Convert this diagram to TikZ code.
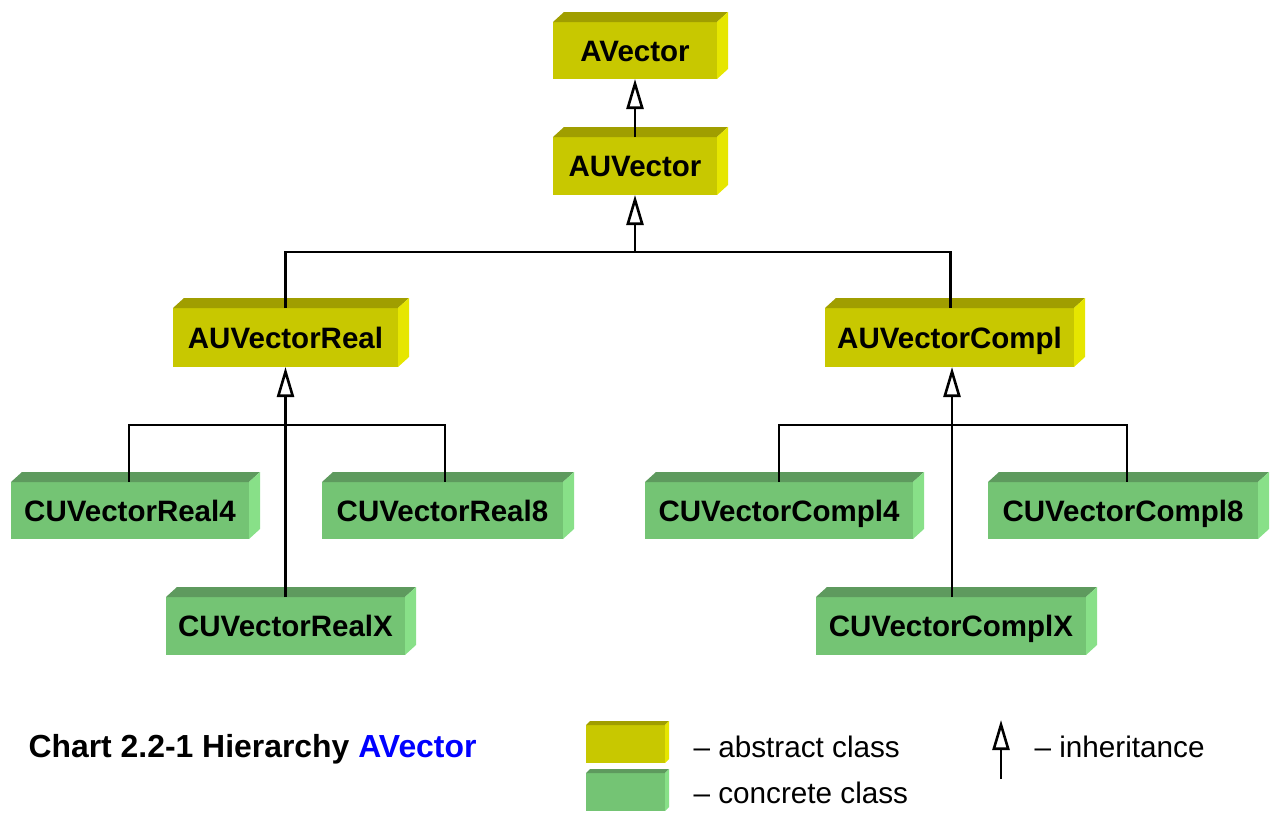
\documentclass[tikz,border=0pt]{standalone}
\usepackage{fontspec}
\setmainfont{Liberation Sans}
\usetikzlibrary{arrows.meta}

\definecolor{absfront}{HTML}{C8C800}
\definecolor{abstop}{HTML}{A09E00}
\definecolor{absside}{HTML}{E6E600}
\definecolor{confront}{HTML}{74C474}
\definecolor{contop}{HTML}{5E9A5E}
\definecolor{conside}{HTML}{88E088}
\definecolor{titleblue}{HTML}{0000FF}

\tikzset{
  classbox/.style={inner sep=0pt, outer sep=0pt, anchor=north west,
    font=\fontsize{29.5}{31}\selectfont\bfseries, text height=21pt, text depth=0pt},
  abstractcls/.style={classbox, fill=absfront},
  concretecls/.style={classbox, fill=confront},
  link/.style={line width=2.5pt, draw=black, line join=miter},
  inherit/.style={link, -{Triangle[open, fill=white, length=30pt, width=17pt, line width'=2.6pt]}},
  legendtext/.style={anchor=base west, font=\fontsize{29.7}{31}\selectfont},
}

% a class box: name, style, x1, y1, x2, y2, label
\newcommand\classnode[7]{%
  \node[#2, minimum width={(#5-#3)*1pt}, minimum height={(#6-#4)*1pt}]
    (#1) at (#3,#4) {#7};}

% top and side faces of a box: name, depth x, depth y, top colour, side colour
\newcommand\boxfaces[5]{%
  \fill[#4] (#1.north west) -- ++(#2,-#3) -- ([shift={(#2,-#3)}]#1.north east)
    -- (#1.north east) -- cycle;
  \fill[#5] (#1.north east) -- ++(#2,-#3) -- ([shift={(#2,-#3)}]#1.south east)
    -- (#1.south east) -- cycle;}

\begin{document}
\begin{tikzpicture}[x=1pt, y=-1pt]
\useasboundingbox (0,0) rectangle (1272,814);

% abstract classes
\classnode{av}{abstractcls}{553}{22}{717}{79}{AVector}
\classnode{auv}{abstractcls}{553}{137}{717}{195}{AUVector}
\classnode{aur}{abstractcls}{173}{308}{398}{367}{AUVectorReal}
\classnode{auc}{abstractcls}{825}{308}{1074}{367}{AUVectorCompl}
\foreach \n in {av,auv,aur,auc} {\boxfaces{\n}{11}{10}{abstop}{absside}}

% concrete classes
\classnode{cur4}{concretecls}{11}{482}{249}{539}{CUVectorReal4}
\classnode{cur8}{concretecls}{322}{482}{563}{539}{CUVectorReal8}
\classnode{curx}{concretecls}{166}{597}{405}{655}{CUVectorRealX}
\classnode{cuc4}{concretecls}{645}{482}{913}{539}{CUVectorCompl4}
\classnode{cuc8}{concretecls}{988}{482}{1258}{539}{CUVectorCompl8}
\classnode{cucx}{concretecls}{816}{597}{1086}{655}{CUVectorComplX}
\foreach \n in {cur4,cur8,curx,cuc4,cuc8,cucx} {\boxfaces{\n}{11}{10}{contop}{conside}}

% junction points
\coordinate (hubA) at (635,252);
\coordinate (hubR) at (286,425);
\coordinate (hubC) at (952,425);

% inheritance connectors
\draw[inherit] (auv.north) -- (av.south);
\draw[inherit] (hubA) -- (auv.south);
\draw[link] (aur.north) |- (hubA) -| ([xshift=1pt]auc.north);
\draw[inherit] (curx.north) -- (aur.south);
\draw[link] ([xshift=-1pt]cur4.north) |- (hubR) -| ([xshift=2.5pt]cur8.north);
\draw[inherit] (cucx.north -| hubC) -- (hubC |- auc.south);
\draw[link] (cuc4.north) |- (hubC) -| ([xshift=4pt]cuc8.north);

% caption
\node[anchor=base west, font=\fontsize{31.9}{33}\selectfont\bfseries] (caption) at (25,757)
  {Chart 2.2-1 Hierarchy \textcolor{titleblue}{AVector}};

% legend
\classnode{legabs}{abstractcls}{586}{725}{665}{763}{}
\boxfaces{legabs}{4}{4}{abstop}{absside}
\classnode{legcon}{concretecls}{586}{773}{665}{811}{}
\boxfaces{legcon}{4}{4}{contop}{conside}
\node[legendtext] (labs) at (690,757) {– abstract class};
\node[legendtext] (lcon) at (690,803) {– concrete class};
\coordinate (ltail) at (1001,779);
\coordinate (ltip) at (1001,720);
\draw[inherit] (ltail) -- (ltip);
\node[legendtext] (linh) at (1031,757) {– inheritance};
\end{tikzpicture}
\end{document}
